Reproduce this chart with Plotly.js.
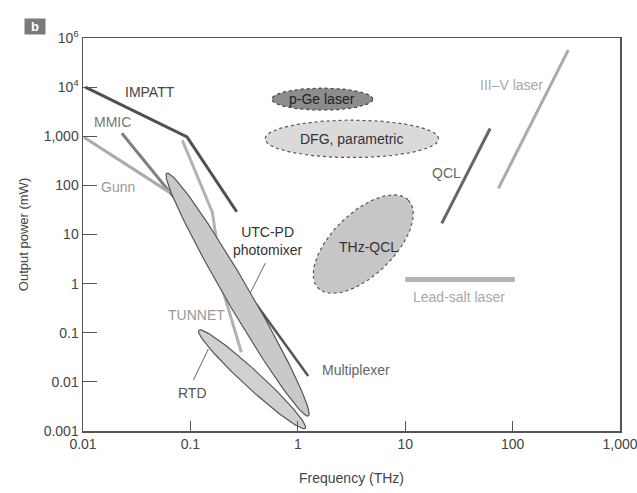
<!DOCTYPE html>
<html>
<head>
<meta charset="utf-8">
<script src="https://cdn.plot.ly/plotly-3.0.1.min.js"></script>
<style>html,body{margin:0;padding:0;background:#fff;}#chart{width:637px;height:493px;}</style>
</head>
<body>
<div id="chart"></div>
<script>
// ---- Line-type sources: frequency (THz) and output power (mW) ----
const impattFreq = [0.0105, 0.093, 0.27];
const impattPower = [10000, 970, 29];
const mmicFreq = [0.023, 0.07];
const mmicPower = [1150, 58];
const gunnFreq = [0.0102, 0.064];
const gunnPower = [950, 72];
const tunnetFreq = [0.084, 0.16, 0.175, 0.194, 0.298];
const tunnetPower = [830, 28.6, 7.7, 0.93, 0.04];
const multiplexerFreq = [0.41, 1.25];
const multiplexerPower = [0.38, 0.0132];
const qclFreq = [21.9, 61.8];
const qclPower = [16.8, 1440];
const iiivFreq = [73.8, 330];
const iiivPower = [87, 56500];
const leadSaltFreq = [10, 105];
const leadSaltPower = [1.22, 1.22];

// ---- Region-type sources (ellipses): [centre, end of major axis, end of minor axis] ----
const utcpdFreq = [0.275, 1.253, 0.344];
const utcpdPower = [0.598, 0.00202, 0.792];
const rtdFreq = [0.375, 1.175, 0.425];
const rtdPower = [0.01132, 0.001135, 0.0152];
const pgeFreq = [1.69, 4.99, 1.69];
const pgePower = [5690, 5690, 9520];
const dfgFreq = [3.19, 20.5, 3.19];
const dfgPower = [885, 885, 2128];
const thzqclFreq = [4.07, 10.7, 6.47];
const thzqclPower = [6.38, 50.1, 2.25];

// ---- Axis ticks ----
const xTickVals = [0.01, 0.1, 1, 10, 100, 1000];
const xTickText = ['0.01', '0.1', '1', '10', '100', '1,000'];
const yTickVals = [0.001, 0.01, 0.1, 1, 10, 100, 1000, 10000, 100000];
const yTickText = ['0.001', '0.01', '0.1', '1', '10', '100', '1,000', '10<sup>4</sup>', '10<sup>6</sup>'];

// ---- Labels ----
const labelText = ['IMPATT', 'MMIC', 'Gunn', 'UTC-PD<br>photomixer', 'TUNNET', 'RTD', 'Multiplexer',
  'p-Ge laser', 'DFG, parametric', 'THz-QCL', 'QCL', 'III–V laser', 'Lead-salt laser'];
const labelFreq = [0.0425, 0.0187, 0.0214, 0.526, 0.115, 0.1038, 1.62, 1.69, 3.19, 4.56, 24.4, 98.4, 31.8];
const labelPower = [8000, 1960, 93.5, 7.3, 0.229, 0.00585, 0.0174, 5690, 885, 5.62, 175, 10960, 0.54];

// pointer lines
const utcPointerFreq = [0.499, 0.361];
const utcPointerPower = [2.62, 0.643];
const rtdPointerFreq = [0.1067, 0.147];
const rtdPointerPower = [0.0109, 0.0466];

function ellipse(f, p) {
  const cx = Math.log10(f[0]), cy = Math.log10(p[0]);
  const ax = Math.log10(f[1]) - cx, ay = Math.log10(p[1]) - cy;
  const bx = Math.log10(f[2]) - cx, by = Math.log10(p[2]) - cy;
  const xs = [], ys = [];
  for (let i = 0; i <= 120; i++) {
    const t = 2 * Math.PI * i / 120;
    xs.push(Math.pow(10, cx + Math.cos(t) * ax + Math.sin(t) * bx));
    ys.push(Math.pow(10, cy + Math.cos(t) * ay + Math.sin(t) * by));
  }
  return {x: xs, y: ys};
}

function lineTrace(x, y, color, width) {
  return {x: x, y: y, type: 'scatter', mode: 'lines', line: {color: color, width: width}, hoverinfo: 'skip', showlegend: false};
}
function ellipseTrace(f, p, fill, lineColor, dash) {
  const e = ellipse(f, p);
  return {x: e.x, y: e.y, type: 'scatter', mode: 'lines', fill: 'toself', fillcolor: fill,
    line: {color: lineColor, width: 1.2, dash: dash}, hoverinfo: 'skip', showlegend: false};
}

const traces = [
  lineTrace(impattFreq, impattPower, '#505050', 3),
  lineTrace(mmicFreq, mmicPower, '#808080', 3),
  lineTrace(gunnFreq, gunnPower, '#ababab', 3),
  lineTrace(tunnetFreq, tunnetPower, '#b2b2b2', 3),
  lineTrace(multiplexerFreq, multiplexerPower, '#555555', 2.5),
  ellipseTrace(utcpdFreq, utcpdPower, '#c9c9c9', '#555555', 'solid'),
  ellipseTrace(rtdFreq, rtdPower, '#d0d0d0', '#555555', 'solid'),
  ellipseTrace(pgeFreq, pgePower, '#8c8c8c', '#444444', 'dot'),
  ellipseTrace(dfgFreq, dfgPower, '#dadada', '#555555', 'dot'),
  ellipseTrace(thzqclFreq, thzqclPower, '#c6c6c6', '#555555', 'dot'),
  lineTrace(qclFreq, qclPower, '#666666', 3),
  lineTrace(iiivFreq, iiivPower, '#ababab', 3),
  lineTrace(leadSaltFreq, leadSaltPower, '#b5b5b5', 5),
  lineTrace(utcPointerFreq, utcPointerPower, '#666666', 1),
  lineTrace(rtdPointerFreq, rtdPointerPower, '#666666', 1)
];

const labelColors = ['#444', '#777', '#9a9a9a', '#333', '#9a9a9a', '#555', '#666', '#222', '#333', '#333', '#666', '#a8a8a8', '#a8a8a8'];
const labelAnchor = ['center', 'center', 'center', 'center', 'center', 'center', 'left', 'center', 'center', 'center', 'center', 'center', 'center'];
const FONT = 'Liberation Sans, Arial, sans-serif';

const annotations = labelText.map((t, i) => ({
  x: Math.log10(labelFreq[i]), y: Math.log10(labelPower[i]), xref: 'x', yref: 'y',
  text: t, showarrow: false, xanchor: labelAnchor[i], yanchor: 'middle',
  font: {family: FONT, size: 14, color: labelColors[i]}
}));
annotations.push({
  xref: 'paper', yref: 'paper', x: -0.11, y: 1.051, text: '<b>b</b>', showarrow: false,
  bgcolor: '#7a7a7a', font: {family: FONT, size: 13, color: '#ffffff'},
  width: 20, height: 15, borderpad: 0
});

const layout = {
  width: 637, height: 493,
  margin: {l: 83, r: 17, t: 38, b: 62},
  paper_bgcolor: '#ffffff', plot_bgcolor: '#ffffff',
  showlegend: false,
  font: {family: FONT, size: 14, color: '#444'},
  xaxis: {
    type: 'log', range: [-2, 3.0002], tickvals: xTickVals, ticktext: xTickText,
    ticklabeloverflow: 'allow',
    ticks: 'inside', ticklen: 10, tickcolor: '#555', tickwidth: 1.2,
    showline: true, mirror: true, linecolor: '#555', linewidth: 1.5,
    showgrid: false, zeroline: false,
    tickfont: {family: FONT, size: 14, color: '#444'},
    title: {text: 'Frequency (THz)', standoff: 22, font: {family: FONT, size: 14, color: '#444'}}
  },
  yaxis: {
    type: 'log', range: [-3, 5], tickvals: yTickVals, ticktext: yTickText,
    ticks: 'inside', ticklen: 14, tickcolor: '#555', tickwidth: 1.2,
    showline: true, mirror: true, linecolor: '#555', linewidth: 1.5,
    showgrid: false, zeroline: false,
    tickfont: {family: FONT, size: 14, color: '#444'},
    title: {text: 'Output power (mW)', standoff: 12, font: {family: FONT, size: 13, color: '#444'}}
  },
  annotations: annotations
};

Plotly.newPlot('chart', traces, layout, {displayModeBar: false, staticPlot: true});
</script>
</body>
</html>
